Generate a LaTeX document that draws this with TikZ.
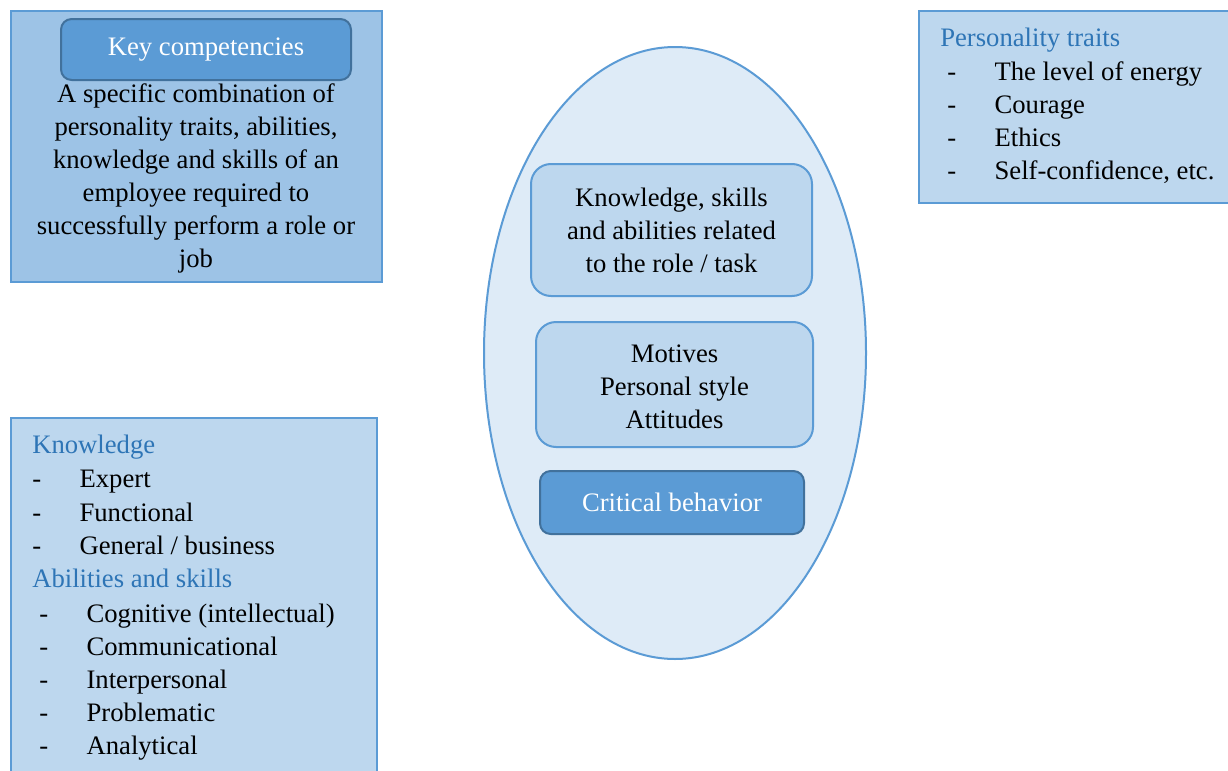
\documentclass[tikz,border=0pt]{standalone}
\usepackage{fontspec}
\setmainfont{Liberation Serif}
\usetikzlibrary{positioning}

\definecolor{midblue}{HTML}{5B9BD5}
\definecolor{darkblue}{HTML}{41719C}
\definecolor{panelblue}{HTML}{9DC3E6}
\definecolor{lightblue}{HTML}{BDD7EE}
\definecolor{paleblue}{HTML}{DEEBF7}
\definecolor{headblue}{HTML}{2E75B6}

\newcommand{\dashitem}[1]{\makebox[35.5pt][l]{-}#1}

\tikzset{
  panel/.style={draw=midblue, line width=1.5pt},
  innerbox/.style={draw=midblue, fill=lightblue, line width=1.5pt, rounded corners=15pt, align=center},
  keybox/.style={draw=darkblue, fill=midblue, line width=1.5pt, rounded corners=8pt, text=white},
  heading/.style={text=headblue, anchor=base west, inner sep=0pt},
  item/.style={anchor=base west, inner sep=0pt},
}

\begin{document}
\begin{tikzpicture}[x=0.75pt,y=-0.75pt,font=\fontsize{20}{24.75}\selectfont]
                    \clip (0,0) rectangle (1228,771);
                    \fill[white] (0,0) rectangle (1228,771);

                    \draw[panel, fill=panelblue] (11,11) rectangle (382,282);
                    \node[keybox, minimum width=217.5pt, minimum height=45.75pt] (key) at (206,49.5) {Key competencies};
                    \node[align=center, inner sep=0pt] (def) at (196,178)
                        {A specific combination of\\ personality traits, abilities,\\ knowledge and skills of an\\ employee required to\\ successfully perform a role or\\ job};

                    \draw[panel, fill=lightblue] (919,11) rectangle (1240,203);
                    \node[heading] (pers) at (940,46) {Personality traits};
                    \node[item] (p1) at (947,80) {\dashitem{The level of energy}};
                    \node[item] (p2) at (947,113) {\dashitem{Courage}};
                    \node[item] (p3) at (947,146) {\dashitem{Ethics}};
                    \node[item] (p4) at (947,179) {\dashitem{Self-confidence, etc.}};

                    \draw[panel, fill=lightblue] (11,418) rectangle (377,790);
                    \node[heading] (know) at (32,453) {Knowledge};
                    \node[item] (k1) at (32,487) {\dashitem{Expert}};
                    \node[item] (k2) at (32,521) {\dashitem{Functional}};
                    \node[item] (k3) at (32,554) {\dashitem{General / business}};
                    \node[heading] (abil) at (32,587) {Abilities and skills};
                    \node[item] (a1) at (39,622) {\dashitem{Cognitive (intellectual)}};
                    \node[item] (a2) at (39,655) {\dashitem{Communicational}};
                    \node[item] (a3) at (39,688) {\dashitem{Interpersonal}};
                    \node[item] (a4) at (39,721) {\dashitem{Problematic}};
                    \node[item] (a5) at (39,754) {\dashitem{Analytical}};

                    \draw[panel, fill=paleblue] (675,353) ellipse [x radius=143.25pt, y radius=229.5pt];
                    \node[innerbox, minimum width=210.75pt, minimum height=99pt] (ksa) at (671.5,230)
                        {Knowledge, skills\\ and abilities related\\ to the role / task};
                    \node[innerbox, minimum width=207.75pt, minimum height=93.75pt] (mot) at (674.5,384.5)
                        {\strut Motives\\ Personal style\\ Attitudes};
                    \node[keybox, minimum width=198pt, minimum height=47.25pt] (crit) at (672,502.5) {Critical behavior};
                \end{tikzpicture}
\end{document}
